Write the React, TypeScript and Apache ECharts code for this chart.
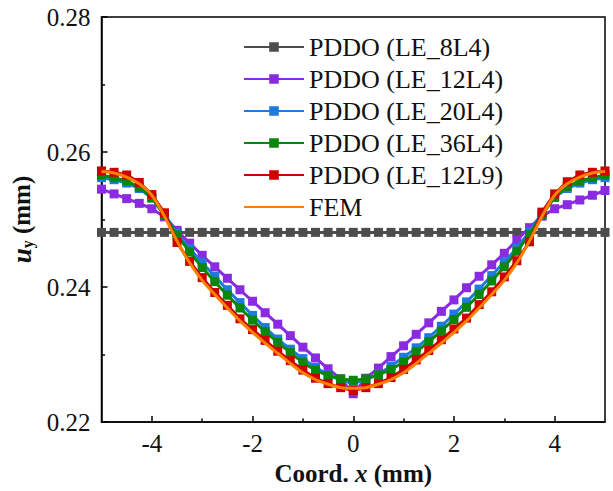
import React, { useEffect, useRef } from "react";
import * as echarts from "echarts";

const xs = [-5, -4.75, -4.5, -4.25, -4, -3.75, -3.5, -3.25, -3, -2.75, -2.5, -2.25, -2, -1.75, -1.5, -1.25, -1, -0.75, -0.5, -0.25, 0,
  0.25, 0.5, 0.75, 1, 1.25, 1.5, 1.75, 2, 2.25, 2.5, 2.75, 3, 3.25, 3.5, 3.75, 4, 4.25, 4.5, 4.75, 5];

const le8L4 = [0.2481, 0.2481, 0.2481, 0.2481, 0.2481, 0.2481, 0.2481, 0.2481, 0.2481, 0.2481, 0.2481, 0.2481, 0.2481, 0.2481, 0.2481, 0.2481, 0.2481, 0.2481, 0.2481, 0.2481, 0.2481,
  0.2481, 0.2481, 0.2481, 0.2481, 0.2481, 0.2481, 0.2481, 0.2481, 0.2481, 0.2481, 0.2481, 0.2481, 0.2481, 0.2481, 0.2481, 0.2481, 0.2481, 0.2481, 0.2481, 0.2481];

const le12L4 = [0.2545, 0.2538, 0.2531, 0.2524, 0.2516, 0.2504, 0.2484, 0.2465, 0.2447, 0.2430, 0.2413, 0.2396, 0.2379, 0.2362, 0.2345, 0.2328, 0.2311, 0.2295, 0.2279, 0.2264, 0.2242,
  0.2265, 0.2280, 0.2297, 0.2313, 0.2330, 0.2347, 0.2364, 0.2381, 0.2399, 0.2416, 0.2433, 0.2450, 0.2470, 0.2488, 0.2505, 0.2516, 0.2522, 0.2529, 0.2536, 0.2543];

const le20L4 = [0.2562, 0.2559, 0.2554, 0.2546, 0.2532, 0.2508, 0.2480, 0.2457, 0.2436, 0.2416, 0.2396, 0.2377, 0.2358, 0.2340, 0.2323, 0.2308, 0.2294, 0.2281, 0.2270, 0.2262, 0.2257,
  0.2263, 0.2271, 0.2283, 0.2296, 0.2310, 0.2325, 0.2342, 0.2360, 0.2378, 0.2397, 0.2417, 0.2437, 0.2458, 0.2482, 0.2510, 0.2533, 0.2546, 0.2554, 0.2559, 0.2562];

const le36L4 = [0.2566, 0.2562, 0.2557, 0.2548, 0.2532, 0.2506, 0.2477, 0.2452, 0.2429, 0.2408, 0.2388, 0.2369, 0.2351, 0.2334, 0.2318, 0.2303, 0.2288, 0.2277, 0.2269, 0.2264, 0.2262,
  0.2264, 0.2270, 0.2278, 0.2289, 0.2304, 0.2319, 0.2335, 0.2352, 0.2370, 0.2389, 0.2409, 0.2430, 0.2453, 0.2478, 0.2507, 0.2533, 0.2549, 0.2557, 0.2562, 0.2566];

const le12L9 = [0.2572, 0.2570, 0.2566, 0.2555, 0.2537, 0.2510, 0.2466, 0.2438, 0.2414, 0.2392, 0.2373, 0.2353, 0.2337, 0.2321, 0.2305, 0.2291, 0.2277, 0.2265, 0.2257, 0.2251, 0.2247,
  0.2251, 0.2257, 0.2266, 0.2278, 0.2292, 0.2306, 0.2322, 0.2338, 0.2354, 0.2374, 0.2393, 0.2415, 0.2439, 0.2467, 0.2511, 0.2538, 0.2556, 0.2566, 0.2570, 0.2572];

const fem = [0.2571, 0.2569, 0.2563, 0.2553, 0.2536, 0.2505, 0.2468, 0.2436, 0.2410, 0.2389, 0.2369, 0.2350, 0.2333, 0.2317, 0.2302, 0.2287, 0.2273, 0.2263, 0.2256, 0.2251, 0.2250,
  0.2251, 0.2256, 0.2263, 0.2273, 0.2287, 0.2302, 0.2317, 0.2333, 0.2350, 0.2369, 0.2389, 0.2410, 0.2436, 0.2468, 0.2505, 0.2536, 0.2553, 0.2563, 0.2569, 0.2571];

const seriesNames = ["PDDO (LE_8L4)", "PDDO (LE_12L4)", "PDDO (LE_20L4)", "PDDO (LE_36L4)", "PDDO (LE_12L9)", "FEM"];
const seriesColors = ["#4d4d4d", "#8a2be2", "#1f7ae0", "#0a870a", "#cc0000", "#ff8000"];
const seriesValues = [le8L4, le12L4, le20L4, le36L4, le12L9, fem];

const xMajorTicks = [-4, -2, 0, 2, 4];
const xMinorTicks = [-3, -1, 1, 3];

const FONT = "Liberation Serif";

export default function App() {
  const ref = useRef<HTMLDivElement>(null);
  useEffect(() => {
    if (!ref.current) return;
    const chart = echarts.init(ref.current, null, { renderer: "svg" });
    const series: any[] = seriesNames.map((name, i) => {
      const isFem = name === "FEM";
      return {
        name,
        type: "line",
        xAxisIndex: 0,
        yAxisIndex: 0,
        data: xs.map((x, j) => [x, seriesValues[i][j]]),
        symbol: isFem ? "none" : "rect",
        symbolSize: 9,
        smooth: isFem ? 0.3 : false,
        lineStyle: { color: seriesColors[i], width: 3 },
        itemStyle: { color: seriesColors[i] },
        z: 2 + i,
      };
    });
    const legendData = seriesNames.map((name) =>
      name === "FEM" ? { name, itemStyle: { opacity: 0 } } : { name }
    );
    const serifRich = (size: number, extra: any = {}) => ({
      fontFamily: FONT,
      fontSize: size,
      color: "#111",
      ...extra,
    });
    const option: any = {
      animation: false,
      backgroundColor: "#ffffff",
      textStyle: { fontFamily: FONT },
      grid: {
        left: 100,
        right: 8,
        top: 17,
        bottom: 66,
        show: true,
        borderColor: "#000",
        borderWidth: 1.5,
        backgroundColor: "transparent",
      },
      legend: {
        orient: "vertical",
        left: 243,
        top: 34,
        padding: 0,
        itemWidth: 60,
        itemHeight: 12,
        itemGap: 6,
        data: legendData,
        formatter: (name: string) => "{a|" + name + "}",
        textStyle: {
          fontFamily: FONT,
          fontSize: 26,
          color: "#111",
          rich: { a: serifRich(26, { lineHeight: 28 }) },
        },
      },
      xAxis: [
        {
          type: "value",
          min: -5,
          max: 5,
          position: "bottom",
          splitLine: { show: false },
          axisLine: { show: true, onZero: false, lineStyle: { color: "#000", width: 1.5 } },
          axisTick: { show: true, inside: true, length: 6, customValues: xMajorTicks, lineStyle: { color: "#000", width: 1.5 } },
          axisLabel: {
            customValues: xMajorTicks,
            fontFamily: FONT,
            fontSize: 25,
            color: "#111",
            margin: 9,
            formatter: (v: number) => "{a|" + String(v) + "}",
            rich: { a: serifRich(25) },
          },
          name: "{b|Coord. }{i|x}{b| (mm)}",
          nameLocation: "middle",
          nameGap: 36,
          nameTextStyle: {
            rich: {
              b: serifRich(25, { fontWeight: "bold" }),
              i: serifRich(25, { fontWeight: "bold", fontStyle: "italic" }),
            },
          },
        },
        {
          type: "value",
          min: -5,
          max: 5,
          position: "bottom",
          splitLine: { show: false },
          axisLine: { show: false, onZero: false },
          axisTick: { show: true, inside: true, length: 3.5, customValues: xMinorTicks, lineStyle: { color: "#000", width: 1.5 } },
          axisLabel: { show: false },
        },
      ],
      yAxis: [
        {
          type: "value",
          min: 0.22,
          max: 0.28,
          interval: 0.02,
          splitLine: { show: false },
          axisLine: { show: true, onZero: false, lineStyle: { color: "#000", width: 1.5 } },
          axisTick: { show: true, inside: true, length: 6, lineStyle: { color: "#000", width: 1.5 } },
          minorTick: { show: true, splitNumber: 2, length: 3.5, lineStyle: { color: "#000", width: 1.5 } },
          axisLabel: {
            fontFamily: FONT,
            fontSize: 25,
            color: "#111",
            margin: 11,
            formatter: (v: number) => "{a|" + v.toFixed(2) + "}",
            rich: { a: serifRich(25) },
          },
          name: "{i|u}{s|y}{b| (mm)}",
          nameLocation: "middle",
          nameRotate: 90,
          nameGap: 66,
          nameTextStyle: {
            rich: {
              i: serifRich(27, { fontWeight: "bold", fontStyle: "italic", lineHeight: 28 }),
              s: serifRich(16, { fontWeight: "bold", verticalAlign: "bottom", lineHeight: 18 }),
              b: serifRich(25, { fontWeight: "bold", lineHeight: 28 }),
            },
          },
        },
      ],
      series,
    };
    chart.setOption(option);
    return () => chart.dispose();
  }, []);
  return (
    <div
      ref={ref}
      style={{ position: "fixed", left: 0, top: 0, width: 613, height: 491, background: "#fff" }}
    />
  );
}
